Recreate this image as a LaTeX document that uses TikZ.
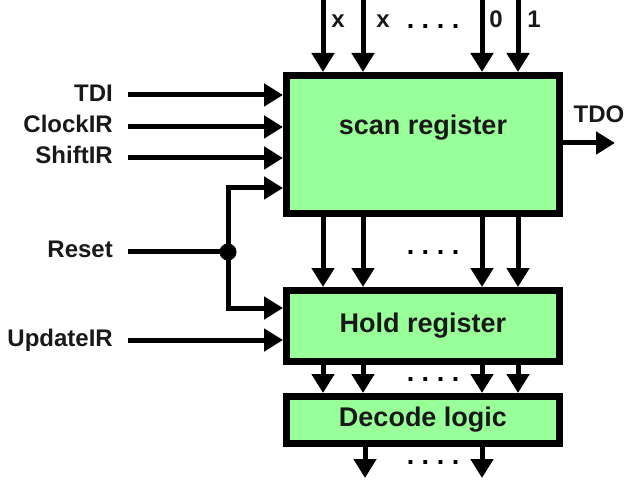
\documentclass[tikz,border=0pt]{standalone}
\usepackage{fontspec}
\setmainfont{Liberation Sans}
\usetikzlibrary{arrows.meta}
\definecolor{boxgreen}{RGB}{153,255,153}
\definecolor{txt}{RGB}{25,25,25}
\newcommand{\fourdots}{.\hspace{7.5pt}.\hspace{7.5pt}.\hspace{7.5pt}.}
\begin{document}
\begin{tikzpicture}[x=1pt,y=-1pt,
  regbox/.style={draw=black,fill=boxgreen,line width=7pt,minimum width=273pt,inner sep=0pt,text=txt,font=\fontsize{27}{29}\selectfont\bfseries},
  sig/.style={line width=5pt,-{Triangle[length=19pt,width=22pt]}},
  wire/.style={line width=5pt},
  lbl/.style={font=\fontsize{24}{26}\selectfont\bfseries,inner sep=0pt,text=txt},
  boxtext/.style={font=\fontsize{27}{29}\selectfont\bfseries,inner sep=0pt,text=txt,anchor=base},
  dots/.style={font=\fontsize{27}{29}\selectfont\bfseries,inner sep=0pt,anchor=base}]
\useasboundingbox (0,0) rectangle (642,486);
\node[regbox,minimum height=138pt] (scan) at (423,144.5) {};
\node[boxtext] (scantext) at (423,135) {scan register};
\node[regbox,minimum height=71pt] (hold) at (423,326) {Hold register};
\node[regbox,minimum height=47pt] (dec) at (423,420) {Decode logic};
% top inputs
\foreach \n/\xx in {a/323,b/363,c/482,d/518}{
  \coordinate (t\n) at (\xx,0);
  \draw[sig] (t\n) -- (scan.north -| t\n);
  \draw[sig] (scan.south -| t\n) -- (hold.north -| t\n);
  \draw[sig] (hold.south -| t\n) -- (dec.north -| t\n);
}
\node[lbl,anchor=base] (lx1) at (338,28) {x};
\node[lbl,anchor=base] (lx2) at (383,28) {x};
\node[dots] (d1) at (433,28.5) {\fourdots};
\node[lbl,anchor=base] (l0) at (496,28) {0};
\node[lbl,anchor=base] (l1) at (534,28) {1};
\node[dots] (d2) at (433,254.5) {\fourdots};
\node[dots] (d3) at (433,381.5) {\fourdots};
\node[dots] (d4) at (433,464.5) {\fourdots};
% bottom outputs
\coordinate (ob1) at (365,478);
\coordinate (ob2) at (482,478);
\draw[sig] (dec.south -| ob1) -- (ob1);
\draw[sig] (dec.south -| ob2) -- (ob2);
% left inputs
\node[lbl,anchor=base east] (tdi) at (113,102) {TDI};
\node[lbl,anchor=base east] (clk) at (113,133) {ClockIR};
\node[lbl,anchor=base east] (shf) at (113,164) {ShiftIR};
\node[lbl,anchor=base east] (rst) at (113,258) {Reset};
\node[lbl,anchor=base east] (upd) at (113,346) {UpdateIR};
\foreach \s/\yy in {tdi/95,clk/127,shf/158}{
  \coordinate (s\s) at (128,\yy);
  \draw[sig] (s\s) -- (scan.west |- s\s);
}
\coordinate (supd) at (128,340);
\draw[sig] (supd) -- (hold.west |- supd);
\coordinate (srst) at (128,252);
\coordinate (j) at (228,252);
\coordinate (jt) at (228,188);
\coordinate (jb) at (228,308);
\draw[wire] (srst) -- (j);
\draw[sig] (j) -- (jt) -- (scan.west |- jt);
\draw[sig] (j) -- (jb) -- (hold.west |- jb);
\fill (j) circle (8.5pt);
% TDO
\coordinate (tdoend) at (615,143);
\draw[sig] (scan.east |- tdoend) -- (tdoend);
\node[lbl,anchor=base] (tdo) at (599,123) {TDO};
\end{tikzpicture}
\end{document}
